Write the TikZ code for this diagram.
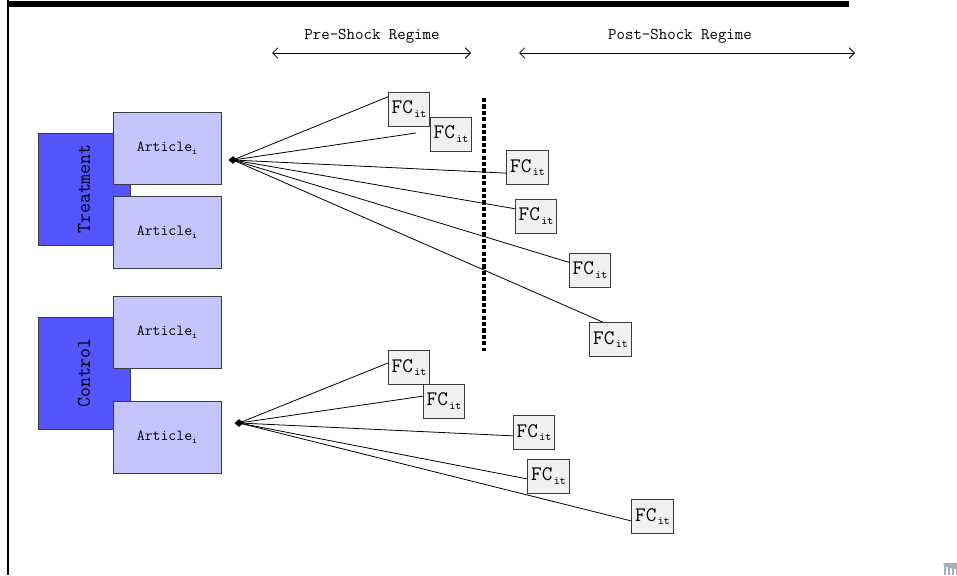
\documentclass[tikz,border=0pt]{standalone}
\usetikzlibrary{arrows.meta,shapes.geometric}
\definecolor{grpblue}{RGB}{85,85,255}
\definecolor{artblue}{RGB}{196,196,255}
\definecolor{fcgray}{RGB}{240,240,240}
\definecolor{edgegray}{RGB}{60,60,60}
\definecolor{logogray}{RGB}{165,175,190}
\tikzset{
  grpbox/.style={draw=edgegray, fill=grpblue, line width=0.75pt, minimum width=69pt, minimum height=84pt, inner sep=0pt},
  artbox/.style={draw=edgegray, fill=artblue, line width=0.75pt, minimum width=81pt, minimum height=54pt, inner sep=0pt, font=\ttfamily\fontsize{11.5}{12}\selectfont},
  fcbox/.style={draw=edgegray, fill=fcgray, line width=0.6pt, minimum width=31pt, minimum height=25.5pt, inner sep=0pt, font=\ttfamily\fontsize{15.5}{16}\selectfont},
  grplabel/.style={rotate=90, font=\ttfamily\fontsize{14.5}{15}\selectfont},
  hub/.style={diamond, fill=black, inner sep=0pt, minimum width=7pt, minimum height=6pt},
  ray/.style={line width=0.6pt, black},
  regime/.style={font=\ttfamily\fontsize{12.3}{13}\selectfont},
  span/.style={line width=0.6pt, {Straight Barb[length=4pt,width=8pt]}-{Straight Barb[length=4pt,width=8pt]}}
}
\newcommand{\fclabel}{FC\kern1pt\raisebox{-0.4ex}{\fontsize{8.5}{9}\selectfont it}}
\newcommand{\artlabel}{Article\raisebox{-0.4ex}{\fontsize{7}{7}\selectfont i}}
\begin{document}
\begin{tikzpicture}[x=0.75pt,y=-0.75pt]
\useasboundingbox (0,0) rectangle (957,575);
% frame
\fill[black] (7,1) rectangle (849,7);
\draw[line width=1.5pt] (8,0) -- (8,575);
% regime headers
\node[regime] (pre) at (372,36) {Pre-Shock Regime};
\node[regime] (post) at (680,36) {Post-Shock Regime};
\coordinate (preL) at (272,53);
\coordinate (preR) at (471,53);
\coordinate (postL) at (519,53);
\coordinate (postR) at (855,53);
\draw[span] (preL) -- (preR);
\draw[span] (postL) -- (postR);
% shock line
\coordinate (dtop) at (484,98);
\coordinate (dbot) at (484,351);
\draw[line width=2.4pt, dash pattern=on 3.2pt off 1.6pt] (dtop) -- (dbot);
% treatment group
\node[grpbox] (treat) at (84,189) {};
\node[grplabel] at (treat.center) {Treatment};
\node[artbox] (ta1) at (167,148) {\artlabel};
\node[artbox] (ta2) at (167,232.5) {\artlabel};
% control group
\node[grpbox] (ctrl) at (84,373) {};
\node[grplabel] at (ctrl.center) {Control};
\node[artbox] (ca1) at (167,332) {\artlabel};
\node[artbox] (ca2) at (167,437) {\artlabel};
% top FC boxes
\node[fcbox] (f1) at (409,109) {\fclabel};
\node[fcbox] (f2) at (451,134) {\fclabel};
\node[fcbox] (f3) at (527.5,167.5) {\fclabel};
\node[fcbox] (f4) at (536,216) {\fclabel};
\node[fcbox] (f5) at (590,270) {\fclabel};
\node[fcbox] (f6) at (610.5,339.5) {\fclabel};
\coordinate (e2) at (416,133);
% bottom FC boxes
\node[fcbox] (g1) at (409,367.5) {\fclabel};
\node[fcbox] (g2) at (444,401) {\fclabel};
\node[fcbox] (g3) at (534,432.5) {\fclabel};
\node[fcbox] (g4) at (548.5,476) {\fclabel};
\node[fcbox] (g5) at (652.5,516.5) {\fclabel};
% hubs
\node[hub] (h1) at (233,160) {};
\node[hub] (h2) at (239,423) {};
% rays top
\draw[ray] (h1.center) -- (f1.150);
\draw[ray] (h1.center) -- (e2);
\draw[ray] (h1.center) -- (f3.195);
\draw[ray] (h1.center) -- (f4.161);
\draw[ray] (h1.center) -- (f5.160);
\draw[ray] (h1.center) -- (f6.114);
% rays bottom
\draw[ray] (h2.center) -- (g1.168);
\draw[ray] (h2.center) -- (g2.167);
\draw[ray] (h2.center) -- (g3.189);
\draw[ray] (h2.center) -- (g4.188);
\draw[ray] (h2.center) -- (g5.192);
% logo fragment
\fill[logogray] (943,563) arc (180:90:14 and 6) -- (957,563) -- cycle;
\foreach \xx in {944,948,952,956} {\fill[logogray] (\xx,565) rectangle ++(2.4,10);}
\end{tikzpicture}
\end{document}
